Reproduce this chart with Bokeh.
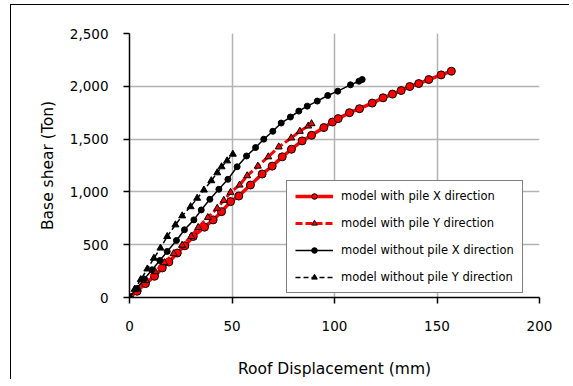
from bokeh.plotting import figure
from bokeh.models import Range1d, NumeralTickFormatter, FixedTicker, Legend, LegendItem
from bokeh.embed import file_html
from bokeh.resources import INLINE

# with pile X direction
wpx_d = [0, 3.7, 7.8, 12.2, 16, 19.2, 23.3, 27, 31.1, 36.6, 40.8, 44.9, 49.3, 53.3, 59, 64.7, 69.6,
         74.5, 79, 84.2, 88.8, 94.8, 99, 101.8, 107.3, 112.2, 118.4, 123.7, 128.3, 132.5, 136.7,
         141.1, 146, 152, 157]
wpx_v = [0, 59, 132, 201, 280, 336, 421, 490, 578, 666, 735, 813, 908, 961, 1065, 1169, 1244,
         1332, 1404, 1483, 1536, 1609, 1662, 1694, 1750, 1788, 1841, 1891, 1926, 1960, 1998,
         2026, 2064, 2108, 2143]
# with pile Y direction
wpy_d = [0, 4, 8, 12.5, 17, 21.5, 25.7, 30.1, 33.5, 38.2, 42.8, 46, 49.3, 53.7, 57.4, 62.6, 67.7,
         72.8, 78.9, 83.1, 87.2, 88.8]
wpy_v = [0, 80, 160, 245, 330, 415, 495, 578, 663, 757, 845, 920, 996, 1065, 1153, 1244, 1332,
         1426, 1511, 1574, 1624, 1646]
# without pile X direction
npx_d = [0, 3.5, 7.2, 11, 14.8, 18.4, 22.9, 26.8, 31.4, 35, 39.2, 43.6, 48, 52.5, 57.1, 61.5,
         65.5, 69.9, 74, 78.5, 82.6, 86.7, 91.6, 96.7, 101.6, 107.8, 111.9, 113.5]
npx_v = [0, 85, 175, 262, 350, 436, 540, 641, 735, 829, 930, 1025, 1119, 1238, 1340, 1420,
         1499, 1574, 1652, 1709, 1765, 1812, 1860, 1913, 1954, 2014, 2048, 2064]
# without pile Y direction
npy_d = [0, 2.5, 5.5, 8.7, 11.9, 15.1, 18.4, 22.4, 25.7, 29.8, 33, 36.3, 39.9, 42.8, 44.9, 47.6, 50.4]
npy_v = [0, 78, 170, 270, 372, 468, 578, 688, 773, 860, 940, 1018, 1106, 1181, 1238, 1294, 1357]

labels = ["model with pile X direction", "model with pile Y direction",
          "model without pile X direction", "model without pile Y direction"]
x_ticks = [0, 50, 100, 150, 200]
y_ticks = [0, 500, 1000, 1500, 2000, 2500]

FONT = "DejaVu Sans"

p = figure(width=559, height=375, output_backend="svg", toolbar_location=None,
           x_range=Range1d(0, 200), y_range=Range1d(0, 2500),
           min_border_left=118, min_border_right=31, min_border_top=28, min_border_bottom=82)
p.styles = {"margin-left": "10px", "margin-top": "4px",
            "border-left": "1px solid black", "border-top": "1px solid black"}
p.outline_line_color = None
p.background_fill_color = "white"

p.xaxis.ticker = FixedTicker(ticks=x_ticks)
p.yaxis.ticker = FixedTicker(ticks=y_ticks)
p.yaxis.formatter = NumeralTickFormatter(format="0,0")
for ax in (p.xaxis[0], p.yaxis[0]):
    ax.axis_line_color = "black"
    ax.axis_line_width = 1.5
    ax.major_tick_line_color = "black"
    ax.major_tick_line_width = 1.5
    ax.major_tick_out = 6
    ax.major_tick_in = 0
    ax.minor_tick_line_color = None
    ax.major_label_text_font = FONT
    ax.major_label_text_font_size = "13.5px"
    ax.major_label_text_color = "black"
    ax.axis_label_text_font = FONT
    ax.axis_label_text_font_size = "15.5px"
    ax.axis_label_text_font_style = "normal"
    ax.axis_label_text_color = "black"
p.xaxis.major_label_standoff = 17
p.yaxis.major_label_standoff = 15
p.xaxis.axis_label = "Roof Displacement (mm)"
p.yaxis.axis_label = "Base shear (Ton)"
p.xaxis.axis_label_standoff = 26
p.yaxis.axis_label_standoff = 10

p.xgrid.ticker = FixedTicker(ticks=x_ticks)
p.ygrid.ticker = FixedTicker(ticks=y_ticks)
for g in (p.xgrid[0], p.ygrid[0]):
    g.grid_line_color = "#b3b3b3"
    g.grid_line_width = 1.5

r1l = p.line(wpx_d, wpx_v, line_color="red", line_width=3.5)
r1m = p.scatter(wpx_d, wpx_v, marker="circle", size=8, fill_color="red", line_color="black", line_width=1)
r2l = p.line(wpy_d, wpy_v, line_color="red", line_width=3, line_dash="7 3")
r2m = p.scatter(wpy_d, wpy_v, marker="triangle", size=7, fill_color="red", line_color="black", line_width=1)
r3l = p.line(npx_d, npx_v, line_color="black", line_width=1.5)
r3m = p.scatter(npx_d, npx_v, marker="circle", size=6, fill_color="black", line_color="black")
r4l = p.line(npy_d, npy_v, line_color="black", line_width=1.5, line_dash="5 3")
r4m = p.scatter(npy_d, npy_v, marker="triangle", size=7, fill_color="black", line_color="black")

legend = Legend(items=[LegendItem(label=labels[0], renderers=[r1l, r1m]),
                       LegendItem(label=labels[1], renderers=[r2l, r2m]),
                       LegendItem(label=labels[2], renderers=[r3l, r3m]),
                       LegendItem(label=labels[3], renderers=[r4l, r4m])],
                location=(157, 4), orientation="vertical",
                border_line_color="black", border_line_width=1,
                background_fill_color="white", background_fill_alpha=1,
                padding=8, spacing=13, margin=0,
                label_text_font=FONT, label_text_font_size="11.5px", label_text_color="black",
                label_height=14, glyph_height=14, glyph_width=38, label_standoff=8)
p.add_layout(legend, "center")

open("out.html", "w").write(file_html(p, INLINE))
